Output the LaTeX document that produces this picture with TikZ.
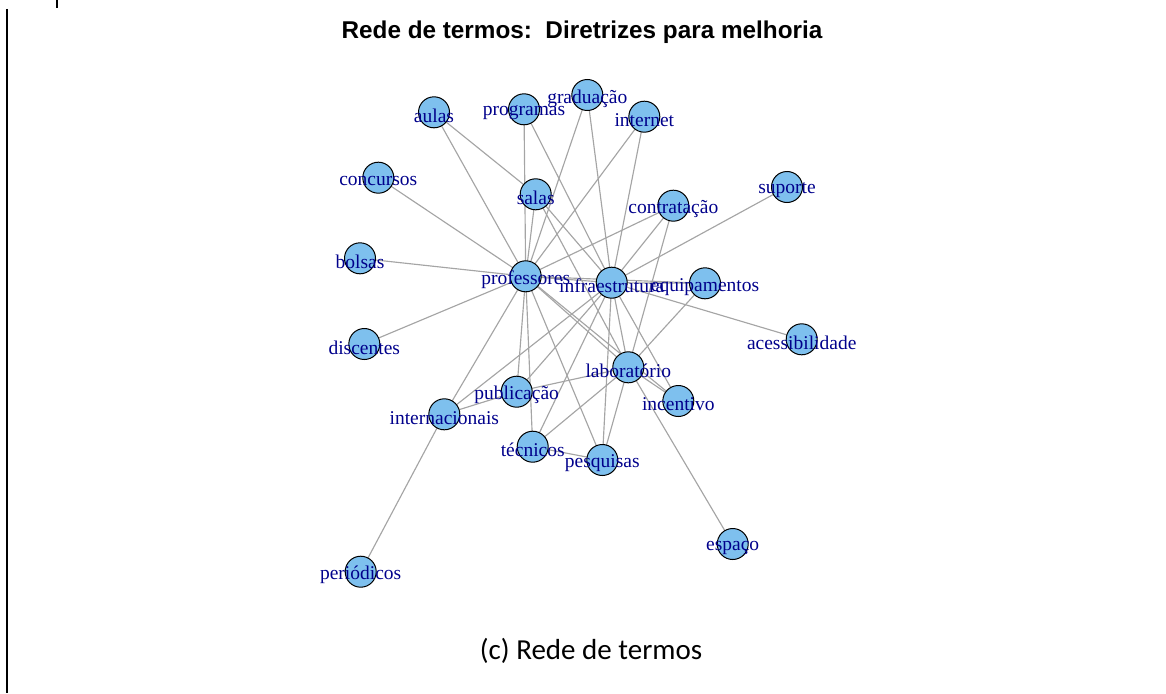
\documentclass[tikz,border=0pt]{standalone}
\usepackage{fontspec}
\newfontfamily\lblfont{Liberation Serif}
\newfontfamily\ttlfont{Liberation Sans}
\newfontfamily\capfont{Carlito}
\definecolor{vfill}{RGB}{126,192,238}
\definecolor{vlab}{RGB}{0,0,139}
\definecolor{ecol}{RGB}{165,165,165}
\begin{document}
\begin{tikzpicture}[x=1pt,y=-1pt,
  vtx/.style={circle,minimum size=31pt,inner sep=0pt,fill=vfill,draw=black,line width=1pt},
  vlabel/.style={text=vlab,font=\lblfont\fontsize{19.5}{21}\selectfont,inner sep=0pt},
  edge/.style={draw=ecol,line width=1.15pt},
  frame/.style={line width=2pt,black}]
\useasboundingbox (0,0) rectangle (1166,693);
\draw[frame] (7,9) -- (7,693);
\draw[frame] (57,0) -- (57,8);
\node[font=\ttlfont\bfseries\fontsize{24.3}{28}\selectfont] (title) at (582,32) {Rede de termos:\ \ Diretrizes para melhoria};
\node[font=\capfont\fontsize{29}{34}\selectfont] (caption) at (591,651) {(c) Rede de termos};
% vertex positions
\coordinate (aulas) at (434,112.3);
\coordinate (programas) at (524,109.3);
\coordinate (graduacao) at (587.3,95);
\coordinate (internet) at (644.3,116.7);
\coordinate (concursos) at (378.3,177.7);
\coordinate (salas) at (535.7,194.3);
\coordinate (contratacao) at (673.3,205.7);
\coordinate (suporte) at (787,187);
\coordinate (bolsas) at (360,258.3);
\coordinate (professores) at (525.7,276.3);
\coordinate (infraestrutura) at (611.7,282.7);
\coordinate (equipamentos) at (705,283.3);
\coordinate (acessibilidade) at (801.7,339.3);
\coordinate (discentes) at (364.3,344);
\coordinate (laboratorio) at (628.3,367.3);
\coordinate (publicacao) at (516.7,391.7);
\coordinate (incentivo) at (678.3,401);
\coordinate (internacionais) at (444.3,414.3);
\coordinate (tecnicos) at (532.7,446.7);
\coordinate (pesquisas) at (602.3,460);
\coordinate (espaco) at (732.7,544);
\coordinate (periodicos) at (360.7,571.7);
% edges
\foreach \a/\b in {
  professores/aulas, professores/programas, professores/graduacao, professores/internet,
  professores/concursos, professores/salas, professores/contratacao, professores/bolsas,
  professores/infraestrutura, professores/equipamentos, professores/discentes,
  professores/internacionais, professores/publicacao, professores/tecnicos,
  professores/pesquisas, professores/laboratorio, professores/incentivo,
  infraestrutura/programas, infraestrutura/graduacao, infraestrutura/internet,
  infraestrutura/salas, infraestrutura/contratacao, infraestrutura/suporte,
  infraestrutura/equipamentos, infraestrutura/acessibilidade, infraestrutura/laboratorio,
  infraestrutura/incentivo, infraestrutura/pesquisas, infraestrutura/tecnicos,
  infraestrutura/internacionais, infraestrutura/publicacao,
  laboratorio/salas, laboratorio/contratacao, laboratorio/equipamentos,
  laboratorio/publicacao, laboratorio/tecnicos, laboratorio/pesquisas,
  laboratorio/incentivo, laboratorio/espaco,
  aulas/salas, internacionais/publicacao, internacionais/periodicos, tecnicos/pesquisas}
  \draw[edge] (\a) -- (\b);
% vertices
\foreach \v in {aulas,programas,graduacao,internet,concursos,salas,contratacao,suporte,
  bolsas,professores,infraestrutura,equipamentos,acessibilidade,discentes,laboratorio,
  publicacao,incentivo,internacionais,tecnicos,pesquisas,espaco,periodicos}
  \node[vtx] (v-\v) at (\v) {};
% labels
\foreach \v/\t in {aulas/aulas,programas/programas,graduacao/graduação,internet/internet,
  concursos/concursos,salas/salas,contratacao/contratação,suporte/suporte,bolsas/bolsas,
  professores/professores,infraestrutura/infraestrutura,equipamentos/equipamentos,
  acessibilidade/acessibilidade,discentes/discentes,laboratorio/laboratório,
  publicacao/publicação,incentivo/incentivo,internacionais/internacionais,
  tecnicos/técnicos,pesquisas/pesquisas,espaco/espaço,periodicos/periódicos}
  \node[vlabel] (l-\v) at ([yshift=-3.5pt]\v) {\t};
\end{tikzpicture}
\end{document}
